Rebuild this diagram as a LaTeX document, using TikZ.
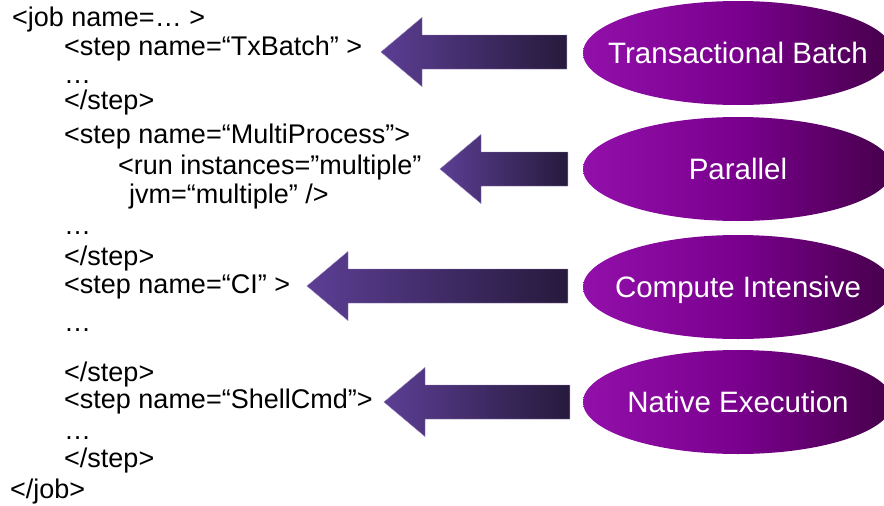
\documentclass[tikz,border=0pt]{standalone}
\usepackage{fontspec}
\setmainfont{Liberation Sans}
\usetikzlibrary{shapes.geometric,calc}

\definecolor{arrowL}{RGB}{92,62,148}
\definecolor{arrowR}{RGB}{38,26,60}
\definecolor{ovalL}{RGB}{146,16,170}
\definecolor{ovalM}{RGB}{122,0,142}
\definecolor{ovalR}{RGB}{70,0,74}

\tikzset{
	code/.style={anchor=base west,inner sep=0pt,font=\fontsize{27}{30}\selectfont},
	oval/.style={ellipse,minimum width=310pt,minimum height=104pt,inner sep=0pt,
		left color=ovalL,right color=ovalR,middle color=ovalM,text=white,
		font=\fontsize{29.5}{32}\selectfont,text height=21pt,text depth=0pt},
	blockarrow/.style={left color=arrowL,right color=arrowR,draw=arrowL!70!white,line width=0.4pt}
}

\begin{document}
\begin{tikzpicture}[x=1pt,y=-1pt]
	\useasboundingbox (0,0) rectangle (884,506);
	
	% job description
	\node[code] (job) at (12,27) {<job name=… >};
	\node[code] (tx) at (64,55) {<step name=“TxBatch” >};
	\node[code] (txdots) at (64,83) {…};
	\node[code] (txend) at (64,109) {</step>};
	\node[code] (mp) at (64,143) {<step name=“MultiProcess”>};
	\node[code] (run) at (118,174) {<run instances=”multiple”};
	\node[code] (jvm) at (129,203) {jvm=“multiple” />};
	\node[code] (mpdots) at (64,234) {…};
	\node[code] (mpend) at (64,265) {</step>};
	\node[code] (ci) at (64,293) {<step name=“CI” >};
	\node[code] (cidots) at (64,331) {…};
	\node[code] (ciend) at (64,381) {</step>};
	\node[code] (sh) at (64,408) {<step name=“ShellCmd”>};
	\node[code] (shdots) at (64,439) {…};
	\node[code] (shend) at (64,467) {</step>};
	\node[code] (jobend) at (10,498) {</job>};
	
	% step types (zero width text so the ovals keep one size)
	\node[oval] (tb) at (738,53) {\makebox[0pt]{Transactional Batch}};
	\node[oval] (par) at (738,169) {\makebox[0pt]{Parallel}};
	\node[oval] (cmp) at (738,287) {\makebox[0pt]{Compute Intensive}};
	\node[oval] (nat) at (738,402) {\makebox[0pt]{Native Execution}};
	
	\coordinate (tip1) at (381,52);
	\coordinate (tip2) at (440,169);
	\coordinate (tip3) at (307,286);
	\coordinate (tip4) at (384,402);
	\coordinate (tail1) at ([xshift=-16pt,yshift=1pt]tb.west);
	\coordinate (tail2) at ([xshift=-15pt]par.west);
	\coordinate (tail3) at ([xshift=-15pt,yshift=1pt]cmp.west);
	\coordinate (tail4) at ([xshift=-13pt]nat.west);
	
	\foreach \n in {1,...,4}
		\shade[blockarrow] (tip\n) -- ++(41,-34.5) -- ++(0,17.5) -- ($(tail\n)+(0,-17)$)
			-- ($(tail\n)+(0,17)$) -- ($(tip\n)+(41,17)$) -- ++(0,17.5) -- cycle;
\end{tikzpicture}
\end{document}
